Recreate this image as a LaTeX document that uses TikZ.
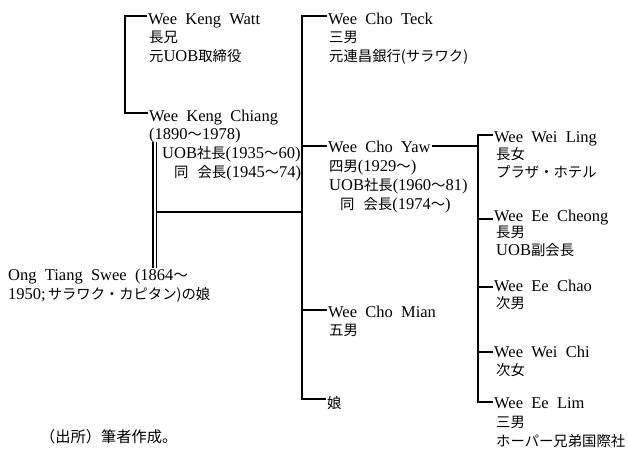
\documentclass[tikz,border=0pt]{standalone}
\usepackage{fontspec}
\setmainfont{Liberation Serif}[WordSpace=2]
\newfontfamily\jp{Noto Sans CJK JP}[Scale=0.87]
\newcommand\jpt[1]{{\jp #1}}
\begin{document}
\begin{tikzpicture}[x=1pt,y=-1pt,
  tx/.style={inner sep=0pt,anchor=base west,font=\fontsize{16.5}{19}\selectfont},
  ln/.style={line width=1.25pt,black}]
\useasboundingbox (0,0) rectangle (628,448);
% ---- left column
\node[tx] (watt) at (148,24) {Wee Keng Watt};
\node[tx] (watt2) at (149,42) {\jpt{長兄}};
\node[tx] (watt3) at (149,61) {\jpt{元}UOB\jpt{取締役}};
\node[tx] (chiang) at (149,121) {Wee Keng Chiang};
\node[tx] (chiang2) at (149,139) {(1890\jpt{～}1978)};
\node[tx] (chiang3) at (162,158) {UOB\jpt{社長}(1935\jpt{～}60)};
\node[tx] (chiang4) at (174,177) {\jpt{同}\hspace{9pt}\jpt{会長}(1945\jpt{～}74)};
\node[tx] (ong1) at (8,280) {Ong Tiang Swee (1864\jpt{～}};
\node[tx] (ong2) at (8,299) {1950;\hspace{2pt}\jpt{サラワク・カピタン)の娘}};
% ---- middle column
\node[tx] (teck) at (328,24) {Wee Cho Teck};
\node[tx] (teck2) at (329,42) {\jpt{三男}};
\node[tx] (teck3) at (329,61) {\jpt{元連昌銀行(サラワク)}};
\node[tx] (yaw) at (328,152) {Wee Cho Yaw};
\node[tx] (yaw2) at (329,171) {\jpt{四男}(1929\jpt{～})};
\node[tx] (yaw3) at (329,190) {UOB\jpt{社長}(1960\jpt{～}81)};
\node[tx] (yaw4) at (340,209) {\jpt{同}\hspace{9pt}\jpt{会長}(1974\jpt{～})};
\node[tx] (mian) at (328,317) {Wee Cho Mian};
\node[tx] (mian2) at (329,335) {\jpt{五男}};
\node[tx] (musume) at (327,408) {\jpt{娘}};
% ---- right column
\node[tx] (ling) at (494,142) {Wee Wei Ling};
\node[tx] (ling2) at (496,159) {\jpt{長女}};
\node[tx] (ling3) at (496,177) {\jpt{プラザ・ホテル}};
\node[tx] (cheong) at (494,221) {Wee Ee Cheong};
\node[tx] (cheong2) at (496,237) {\jpt{長男}};
\node[tx] (cheong3) at (496,255) {UOB\jpt{副会長}};
\node[tx] (chao) at (494,291) {Wee Ee Chao};
\node[tx] (chao2) at (496,308) {\jpt{次男}};
\node[tx] (weichi) at (494,357) {Wee Wei Chi};
\node[tx] (weichi2) at (496,375) {\jpt{次女}};
\node[tx] (lim) at (494,408) {Wee Ee Lim};
\node[tx] (lim2) at (496,427) {\jpt{三男}};
\node[tx] (lim3) at (496,446) {\jpt{ホーパー兄弟国際社}};
\node[tx,font=\fontsize{17.5}{19}\selectfont] (src) at (40,442) {\jpt{（出所）筆者作成。}};
% ---- connectors
\coordinate (lt) at (125,16);
\coordinate (lb) at (125,113);
\draw[ln] ([xshift=-1pt]watt.west |- lt) -- (lt) -- (lb) -- ([xshift=-1pt]chiang.west |- lb);
\coordinate (d1) at (153,142);
\coordinate (d2) at (156.5,142);
\draw[ln] (d1) -- (d1 |- ong1.north);
\draw[ln] (d2) -- (d2 |- ong1.north);
\coordinate (mt) at (302,16);
\coordinate (mb) at (302,399);
\coordinate (mj) at (302,212);
\coordinate (myaw) at (302,146);
\coordinate (mmian) at (302,310);
\draw[ln] ([xshift=-1pt]teck.west |- mt) -- (mt) -- (mb) -- ([xshift=-1pt]musume.west |- mb);
\draw[ln] (d2 |- mj) -- (mj);
\draw[ln] (myaw) -- ([xshift=-1pt]yaw.west |- myaw);
\draw[ln] (mmian) -- ([xshift=-1pt]mian.west |- mmian);
\coordinate (rt) at (478,135);
\coordinate (rb) at (478,402);
\coordinate (ryaw) at (478,146);
\coordinate (rcheong) at (478,219);
\coordinate (rchao) at (478,287);
\coordinate (rchi) at (478,352);
\draw[ln] ([xshift=1pt]yaw.east |- ryaw) -- (ryaw);
\draw[ln] ([xshift=-1pt]ling.west |- rt) -- (rt) -- (rb) -- ([xshift=-1pt]lim.west |- rb);
\draw[ln] (rcheong) -- ([xshift=-1pt]cheong.west |- rcheong);
\draw[ln] (rchao) -- ([xshift=-1pt]chao.west |- rchao);
\draw[ln] (rchi) -- ([xshift=-1pt]weichi.west |- rchi);
\end{tikzpicture}
\end{document}
